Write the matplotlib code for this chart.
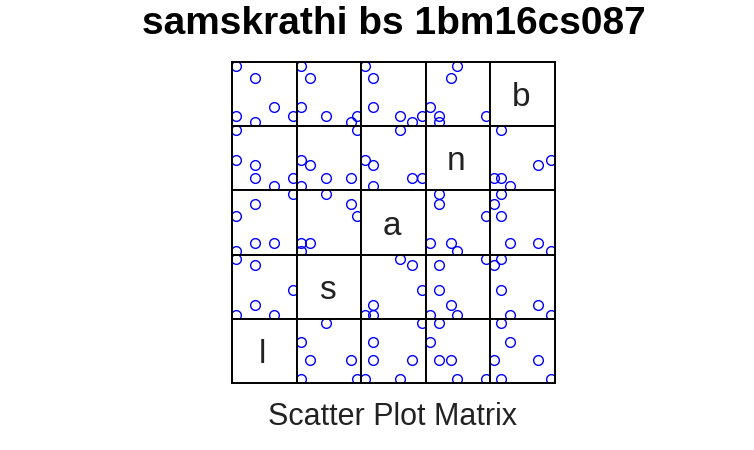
import matplotlib
matplotlib.use("Agg")
import matplotlib.pyplot as plt

plt.rcParams['font.family'] = ['Liberation Sans', 'DejaVu Sans']

l = [4, 3, 2, 2, 1, 1]
s = [4.5, 0.5, 2.0, 8.5, 0.5, 9.5]
a = [10.0, 2.2, 2.2, 8.5, 1.0, 6.5]
n = [2.4, 1.0, 4.4, 2.4, 5.3, 10.0]
b = [2.0, 3.5, 8.0, 1.0, 10.0, 2.0]

names = ['l', 's', 'a', 'n', 'b']
cols = {'l': l, 's': s, 'a': a, 'n': n, 'b': b}


def lims(v):
    lo, hi = min(v), max(v)
    pad = 0.07 * (hi - lo)
    return lo - pad, hi + pad


fig = plt.figure(figsize=(7.54, 4.5), dpi=100)

# grid position in pixels
x0, x1, y0, y1 = 232, 555, 62, 383
W, H = 754, 450
k = len(names)
pw = (x1 - x0) / k
ph = (y1 - y0) / k

for i in range(k):          # row from top
    yname = names[k - 1 - i]
    for j in range(k):      # column from left
        xname = names[j]
        left = (x0 + j * pw) / W
        bottom = 1 - (y0 + (i + 1) * ph) / H
        ax = fig.add_axes([left, bottom, pw / W, ph / H])
        ax.set_xticks([])
        ax.set_yticks([])
        for sp in ax.spines.values():
            sp.set_linewidth(1.4)
            sp.set_color('black')
        if xname == yname:
            ax.set_xlim(0, 1)
            ax.set_ylim(0, 1)
            ax.text(0.47, 0.5, xname, fontsize=24, ha='center',
                    va='center_baseline', color='#222222')
        else:
            ax.plot(cols[xname], cols[yname], 'o', mfc='none', mec='blue',
                    ms=7, mew=1.0)
            ax.set_xlim(*lims(cols[xname]))
            ax.set_ylim(*lims(cols[yname]))

cx = (x0 + x1) / 2 / W
fig.text(cx, 1 - 34 / H, 'samskrathi bs 1bm16cs087', fontsize=28,
         fontweight='bold', ha='center', va='baseline')
fig.text(cx - 1 / W, 1 - 425 / H, 'Scatter Plot Matrix', fontsize=22,
         ha='center', va='baseline', color='#222222')

fig.savefig('out.png', dpi=100)
